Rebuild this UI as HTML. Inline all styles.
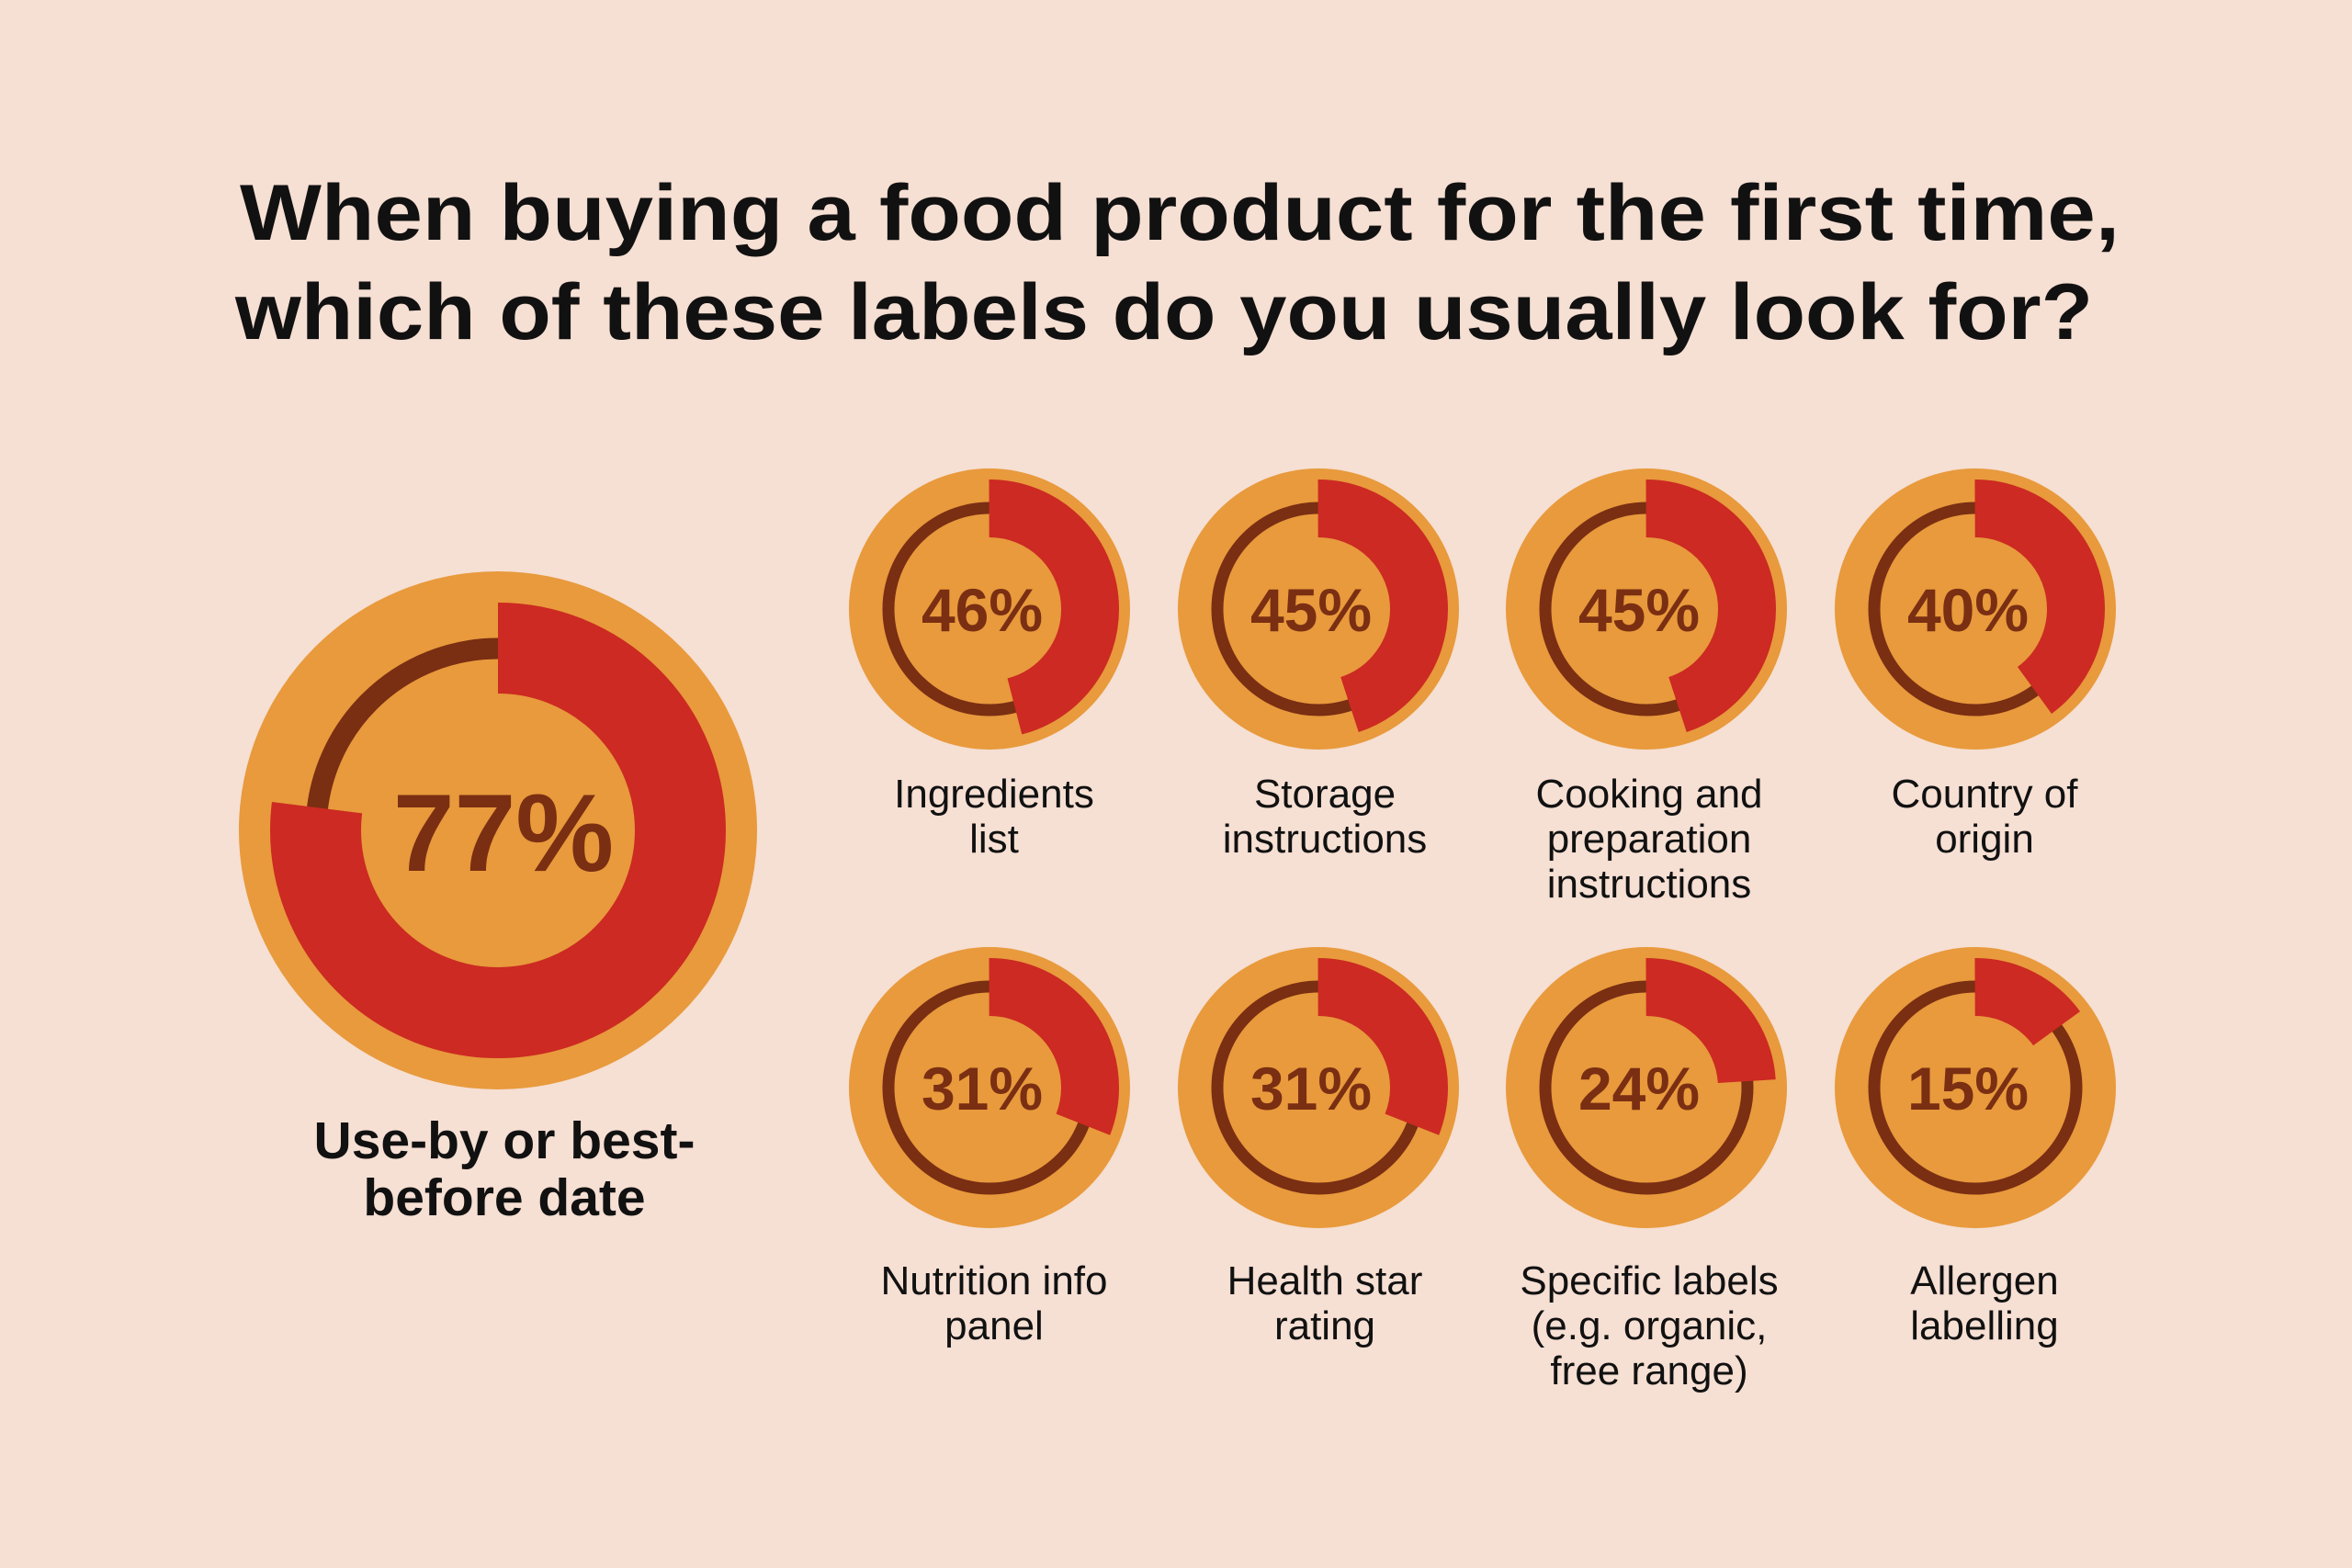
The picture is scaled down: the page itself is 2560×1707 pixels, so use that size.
<!DOCTYPE html>
<html><head><meta charset="utf-8"><style>
html,body{margin:0;padding:0;background:#f6dfd3;}
svg{display:block}
text{font-family:"Liberation Sans",sans-serif;}
</style></head><body>
<svg width="2560" height="1707" viewBox="0 0 2560 1707" xmlns="http://www.w3.org/2000/svg">
<rect width="2560" height="1707" fill="#f6dfd3"/>
<g fill="#111" font-weight="bold" font-size="86">
<text x="261" y="261" textLength="2046" lengthAdjust="spacingAndGlyphs">When buying a food product for the first time,</text>
<text x="256" y="369" textLength="2022" lengthAdjust="spacingAndGlyphs">which of these labels do you usually look for?</text>
</g>
<!-- big -->
<g transform="translate(542,904)">
<circle r="282" fill="#e89a3c"/>
<circle r="198" fill="none" stroke="#7a2e12" stroke-width="23"/>
<circle r="198.5" fill="none" stroke="#cc2a22" stroke-width="99" pathLength="100" stroke-dasharray="77 23" transform="rotate(-90)"/>
<text x="6" y="44" text-anchor="middle" font-size="120" font-weight="bold" fill="#7a2e12">77%</text>
</g>
<g fill="#111" font-size="57" font-weight="bold" text-anchor="middle">
<text x="549" y="1261">Use-by or best-</text>
<text x="549" y="1323">before date</text>
</g>
<defs>
<g id="base">
<circle r="153" fill="#e89a3c"/>
<circle r="110" fill="none" stroke="#7a2e12" stroke-width="13"/>
</g>
</defs>
<g font-size="66" font-weight="bold" fill="#7a2e12" text-anchor="middle">
<g transform="translate(1077,663)"><use href="#base"/><circle r="109.5" fill="none" stroke="#cc2a22" stroke-width="63" pathLength="100" stroke-dasharray="46 54" transform="rotate(-90)"/><text x="-8" y="24">46%</text></g>
<g transform="translate(1435,663)"><use href="#base"/><circle r="109.5" fill="none" stroke="#cc2a22" stroke-width="63" pathLength="100" stroke-dasharray="45 55" transform="rotate(-90)"/><text x="-8" y="24">45%</text></g>
<g transform="translate(1792,663)"><use href="#base"/><circle r="109.5" fill="none" stroke="#cc2a22" stroke-width="63" pathLength="100" stroke-dasharray="45 55" transform="rotate(-90)"/><text x="-8" y="24">45%</text></g>
<g transform="translate(2150,663)"><use href="#base"/><circle r="109.5" fill="none" stroke="#cc2a22" stroke-width="63" pathLength="100" stroke-dasharray="40 60" transform="rotate(-90)"/><text x="-8" y="24">40%</text></g>
<g transform="translate(1077,1184)"><use href="#base"/><circle r="109.5" fill="none" stroke="#cc2a22" stroke-width="63" pathLength="100" stroke-dasharray="31 69" transform="rotate(-90)"/><text x="-8" y="24">31%</text></g>
<g transform="translate(1435,1184)"><use href="#base"/><circle r="109.5" fill="none" stroke="#cc2a22" stroke-width="63" pathLength="100" stroke-dasharray="31 69" transform="rotate(-90)"/><text x="-8" y="24">31%</text></g>
<g transform="translate(1792,1184)"><use href="#base"/><circle r="109.5" fill="none" stroke="#cc2a22" stroke-width="63" pathLength="100" stroke-dasharray="24 76" transform="rotate(-90)"/><text x="-8" y="24">24%</text></g>
<g transform="translate(2150,1184)"><use href="#base"/><circle r="109.5" fill="none" stroke="#cc2a22" stroke-width="63" pathLength="100" stroke-dasharray="15 85" transform="rotate(-90)"/><text x="-8" y="24">15%</text></g>
</g>
<g fill="#111" font-size="44" text-anchor="middle">
<text x="1082" y="879">Ingredients</text><text x="1082" y="928">list</text>
<text x="1442" y="879">Storage</text><text x="1442" y="928">instructions</text>
<text x="1795" y="879">Cooking and</text><text x="1795" y="928">preparation</text><text x="1795" y="977">instructions</text>
<text x="2160" y="879">Country of</text><text x="2160" y="928">origin</text>
<text x="1082" y="1409">Nutrition info</text><text x="1082" y="1458">panel</text>
<text x="1442" y="1409">Health star</text><text x="1442" y="1458">rating</text>
<text x="1795" y="1409">Specific labels</text><text x="1795" y="1458">(e.g. organic,</text><text x="1795" y="1507">free range)</text>
<text x="2160" y="1409">Allergen</text><text x="2160" y="1458">labelling</text>
</g>
</svg>
</body></html>
